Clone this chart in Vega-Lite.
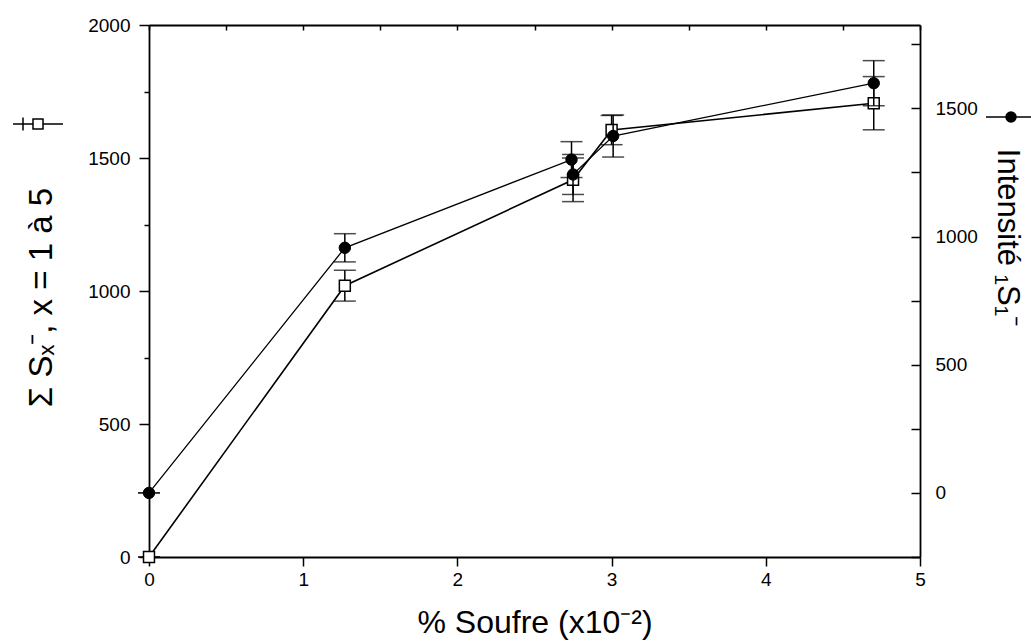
{
  "$schema": "https://vega.github.io/schema/vega-lite/v6.json",
  "autosize": {"type": "none"},
  "width": 771,
  "height": 532,
  "padding": {"left": 149, "top": 25, "right": 111, "bottom": 87},
  "background": "white",
  "config": {
    "view": {"stroke": null},
    "font": "Liberation Sans",
    "axis": {"domainColor": "black", "domainWidth": 1.8, "tickColor": "black", "tickWidth": 1.5, "labelColor": "black", "titleColor": "black", "labelFont": "Liberation Sans", "titleFont": "Liberation Sans", "labelFontSize": 19, "grid": false, "titleFontWeight": "normal"},
    "legend": {"labelFontSize": 1, "padding": 0}
  },
  "datasets": {
    "squares": [
      {"soufre": 0, "somme": 0, "err": 0},
      {"soufre": 1.27, "somme": 1020, "err": 58},
      {"soufre": 2.75, "somme": 1418, "err": 82},
      {"soufre": 3.0, "somme": 1605, "err": 55},
      {"soufre": 4.7, "somme": 1706, "err": 100}
    ],
    "circles": [
      {"soufre": 0, "intensite": 0, "err": 0},
      {"soufre": 1.27, "intensite": 956, "err": 55},
      {"soufre": 2.74, "intensite": 1300, "err": 70},
      {"soufre": 2.75, "intensite": 1242, "err": 78},
      {"soufre": 3.01, "intensite": 1392, "err": 82},
      {"soufre": 4.7, "intensite": 1598, "err": 88}
    ]
  },
  "layer": [
    {
      "data": {"name": "squares"},
      "encoding": {
        "x": {"field": "soufre", "type": "quantitative", "scale": {"domain": [0, 5], "nice": false, "zero": false},
          "axis": {"orient": "bottom", "values": [0, 0.5, 1, 1.5, 2, 2.5, 3, 3.5, 4, 4.5, 5], "format": "d", "labelExpr": "datum.value % 1 === 0 ? datum.label : ''", "tickSize": {"condition": {"test": "datum.value % 1 === 0", "value": 9}, "value": 5}, "labelPadding": 4, "labelFlush": false, "labelOverlap": false, "title": "% Soufre (x10⁻²)", "titleFontSize": 32, "titlePadding": 18}},
        "y": {"field": "somme", "type": "quantitative", "scale": {"domain": [0, 2000], "nice": false, "zero": false},
          "axis": {"orient": "left", "values": [0, 250, 500, 750, 1000, 1250, 1500, 1750, 2000], "labelExpr": "datum.value % 500 === 0 ? datum.label : ''", "format": "d", "tickSize": {"condition": {"test": "datum.value % 500 === 0", "value": 10}, "value": 5}, "labelPadding": 9, "labelFlush": false, "labelOverlap": false, "title": "Σ Sₓ⁻, x = 1 à 5", "titleFontSize": 33, "titleAngle": -90, "titleX": -108, "titleY": 272, "titleAlign": "center", "titleBaseline": "middle"}}
      },
      "layer": [
        {"mark": {"type": "line", "color": "black", "strokeWidth": 1.6}},
        {"mark": {"type": "errorbar", "color": "black", "ticks": {"size": 22, "thickness": 1.5}, "rule": {"strokeWidth": 1.5}}, "encoding": {"yError": {"field": "err"}}},
        {"mark": {"type": "point", "shape": "square", "filled": true, "fill": "white", "stroke": "black", "strokeWidth": 1.5, "size": 120, "opacity": 1},
          "encoding": {"opacity": {"datum": "carre", "scale": {"range": [1]}, "legend": {"orient": "none", "legendX": -137, "legendY": 73, "title": null, "labelExpr": "''", "symbolType": "M-1,0H-0.2 M0.2,0H1 M-0.2,-0.2H0.2V0.2H-0.2Z M-0.6,-0.26V0.26", "symbolSize": 2500,
            "encode": {"symbols": {"update": {"fill": {"value": "white"}, "stroke": {"value": "black"}, "strokeWidth": {"value": 1.5}, "opacity": {"value": 1}}}}}}}}
      ]
    },
    {
      "data": {"name": "circles"},
      "encoding": {
        "x": {"field": "soufre", "type": "quantitative", "scale": {"domain": [0, 5], "nice": false, "zero": false},
          "axis": {"orient": "top", "values": [0, 0.5, 1, 1.5, 2, 2.5, 3, 3.5, 4, 4.5, 5], "labels": false, "tickSize": -5, "title": null}},
        "y": {"field": "intensite", "type": "quantitative", "scale": {"domain": [-250, 1825], "nice": false, "zero": false},
          "axis": {"orient": "right", "values": [-250, 0, 250, 500, 750, 1000, 1250, 1500, 1750], "labelExpr": "datum.value % 500 === 0 ? datum.label : ''", "format": "d", "tickSize": -9, "labelPadding": 24, "labelFlush": false, "labelOverlap": false, "title": "Intensité ₁S₁⁻", "titleFontSize": 31, "titleAngle": 90, "titleX": 86, "titleY": 212, "titleAlign": "center", "titleBaseline": "middle"}}
      },
      "layer": [
        {"mark": {"type": "line", "color": "black", "strokeWidth": 1.3}},
        {"mark": {"type": "errorbar", "color": "black", "ticks": {"size": 22, "thickness": 1.5}, "rule": {"strokeWidth": 1.5}}, "encoding": {"yError": {"field": "err"}}},
        {"mark": {"type": "point", "shape": "circle", "filled": true, "fill": "black", "stroke": "black", "strokeWidth": 1, "size": 130, "opacity": 1},
          "encoding": {"opacity": {"datum": "rond", "scale": {"range": [1]}, "legend": {"orient": "none", "legendX": 836, "legendY": 66, "title": null, "labelExpr": "''", "symbolType": "M-1,0H-0.18 M0.18,0H1 M-0.2,0A0.2,0.2 0 1,1 0.2,0A0.2,0.2 0 1,1 -0.2,0Z", "symbolSize": 2500,
            "encode": {"symbols": {"update": {"fill": {"value": "black"}, "stroke": {"value": "black"}, "strokeWidth": {"value": 1.5}, "opacity": {"value": 1}}}}}}}}
      ]
    }
  ],
  "resolve": {"scale": {"y": "independent", "opacity": "independent"}, "axis": {"x": "independent", "y": "independent"}, "legend": {"opacity": "independent"}}
}
